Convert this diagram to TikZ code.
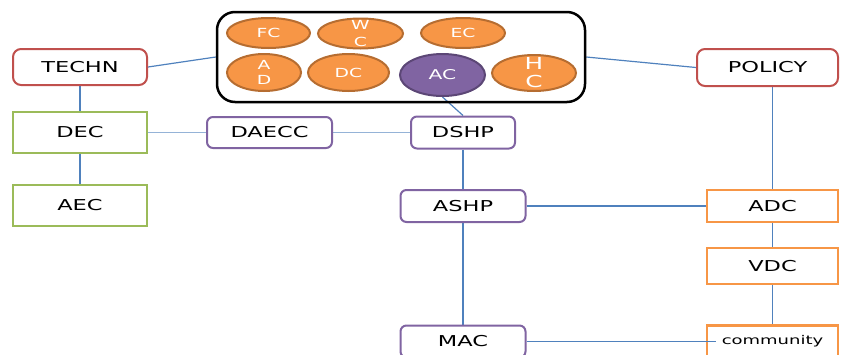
\documentclass[tikz,border=0pt]{standalone}
\usepackage{fontspec}
\setmainfont{DejaVu Sans}[FakeStretch=1.5]
\usetikzlibrary{shapes.geometric,backgrounds}
\definecolor{cred}{HTML}{C0504D}
\definecolor{cgreen}{HTML}{9BBB59}
\definecolor{cpurple}{HTML}{8064A2}
\definecolor{cpurpled}{HTML}{5C4776}
\definecolor{corange}{HTML}{F79646}
\definecolor{corangedk}{HTML}{B66D31}
\definecolor{cblue}{HTML}{4F81BD}
\definecolor{cblue2}{HTML}{95B3D7}
\tikzset{
  boxtxt/.style={font=\fontsize{15}{17}\selectfont, text=black},
  redbox/.style={boxtxt, draw=cred, line width=2pt, rounded corners=8pt, fill=white, inner sep=0pt},
  greenbox/.style={boxtxt, draw=cgreen, line width=2.5pt, fill=white, inner sep=0pt},
  purbox/.style={boxtxt, draw=cpurple, line width=2pt, rounded corners=6pt, fill=white, inner sep=0pt},
  orbox/.style={boxtxt, draw=corange, line width=2.5pt, fill=white, inner sep=0pt},
  orb/.style={ellipse, draw=corangedk, line width=2pt, fill=corange, inner sep=0pt},
  purb/.style={ellipse, draw=cpurpled, line width=2pt, fill=cpurple, inner sep=0pt},
  otxt/.style={text=white, align=center, font=\fontsize{12.5}{16}\selectfont},
  conn/.style={draw=cblue, line width=1.2pt},
  conn2/.style={draw=cblue2, line width=1.6pt},
  group/.style={draw=black, line width=2.5pt, rounded corners=18pt, inner sep=0pt}
}
\begin{document}
\begin{tikzpicture}[x=1pt,y=-1pt]
\useasboundingbox (0,0) rectangle (842,354);
% nodes
\node[redbox, minimum width=134pt, minimum height=36pt] (techn) at (80,67) {TECHN};
\node[greenbox, minimum width=134pt, minimum height=41pt] (dec) at (80,132.5) {DEC};
\node[greenbox, minimum width=134pt, minimum height=41pt] (aec) at (80,205.5) {AEC};
\node[group, minimum width=368pt, minimum height=90pt] (grp) at (401,57) {};
\node[orb, minimum width=83pt, minimum height=30pt, label={[otxt]center:FC}] (fc) at (268.5,33) {};
\node[orb, minimum width=85pt, minimum height=30pt, label={[otxt, font=\fontsize{12.5}{17}\selectfont]center:W\\C}] (wc) at (360.5,33.5) {};
\node[orb, minimum width=84pt, minimum height=30pt, label={[otxt]center:EC}] (ec) at (463,33) {};
\node[orb, minimum width=74pt, minimum height=37pt, label={[otxt, font=\fontsize{12.5}{15}\selectfont]center:A\\D}] (ad) at (264,72.5) {};
\node[orb, minimum width=81pt, minimum height=37pt, label={[otxt]center:DC}] (dc) at (348.5,72.5) {};
\node[purb, minimum width=85pt, minimum height=42pt, label={[otxt, font=\fontsize{13.5}{16}\selectfont]center:AC}] (ac) at (442.5,75) {};
\node[orb, minimum width=84pt, minimum height=36pt, label={[otxt, font=\fontsize{16.5}{18}\selectfont]center:H\\C}] (hc) at (534,73) {};
\node[purbox, minimum width=125pt, minimum height=31pt] (daecc) at (269.5,132.5) {DAECC};
\node[purbox, minimum width=104pt, minimum height=32pt] (dshp) at (463,132.5) {DSHP};
\node[purbox, minimum width=125pt, minimum height=32pt] (ashp) at (463,206) {ASHP};
\node[purbox, minimum width=125pt, minimum height=32pt] (mac) at (463,341.5) {MAC};
\node[redbox, minimum width=141pt, minimum height=37pt] (policy) at (767.5,67.5) {POLICY};
\node[orbox, minimum width=131pt, minimum height=32pt] (adc) at (772.5,206) {ADC};
\node[orbox, minimum width=131pt, minimum height=36pt] (vdc) at (772.5,266) {VDC};
\node[orbox, minimum width=131pt, minimum height=32pt, font=\fontsize{12}{14}\selectfont] (comm) at (772.5,341.5) {community};
% connectors
\begin{pgfonlayer}{background}
\draw[conn] (techn.east) -- (grp.west);
\draw[conn] (grp.east) -- (policy.west);
\draw[conn] (techn.south) -- (dec.north);
\draw[conn] (dec.south) -- (aec.north);
\draw[conn2] (dec.east) -- (daecc.west);
\draw[conn2] (daecc.east) -- (dshp.west);
\draw[conn] (ac.south) -- (dshp.north);
\draw[conn] (dshp.south) -- (ashp.north);
\draw[conn] (ashp.south) -- (mac.north);
\draw[conn] (ashp.east) -- (adc.west);
\draw[conn] (adc.north) -- (adc.north |- policy.south);
\draw[conn] (adc.south) -- (vdc.north);
\draw[conn] (vdc.south) -- (comm.north);
\end{pgfonlayer}
\draw[conn] (mac.east) -- ([xshift=10pt]comm.west);
\end{tikzpicture}
\end{document}
